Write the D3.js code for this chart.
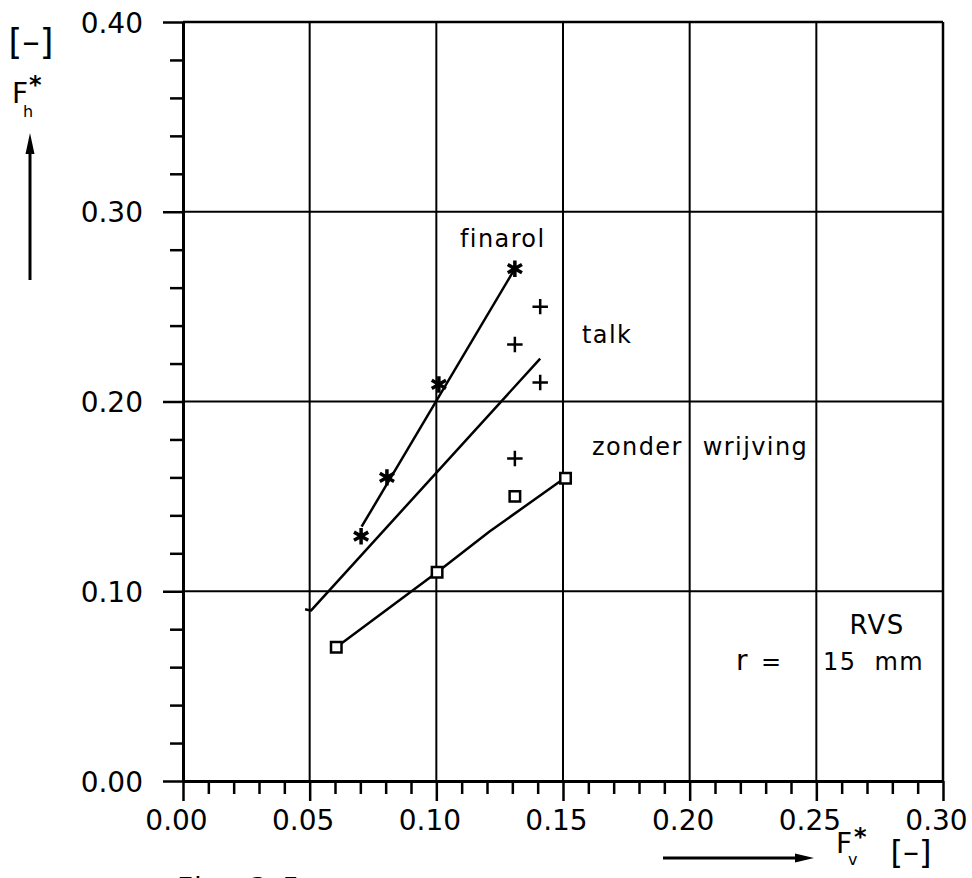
<!DOCTYPE html>
<html><head><meta charset="utf-8">
<script src="https://cdn.jsdelivr.net/npm/d3@7"></script>
<style>
body{margin:0;background:#fff}
svg{display:block}
text{font-family:"DejaVu Sans",sans-serif;fill:#000}
</style>
</head><body>
<svg id="c" width="972" height="878"></svg>
<script>
// ---- data ----
const xMajorTicks = [0.00, 0.05, 0.10, 0.15, 0.20, 0.25, 0.30];
const xMinorTicks = [0.01,0.02,0.03,0.04,0.06,0.07,0.08,0.09,0.11,0.12,0.13,0.14,0.16,0.17,0.18,0.19,0.21,0.22,0.23,0.24,0.26,0.27,0.28,0.29];
const yMajorTicks = [0.00, 0.10, 0.20, 0.30, 0.40];
const yMinorTicks = [0.02,0.04,0.06,0.08,0.12,0.14,0.16,0.18,0.22,0.24,0.26,0.28,0.32,0.34,0.36,0.38];

const seriesNames = ["finarol", "talk", "zonder wrijving"];
const finarolX = [0.0703, 0.0805, 0.101, 0.131];
const finarolY = [0.129, 0.160, 0.209, 0.270];
const talkX = [0.131, 0.131, 0.141, 0.141];
const talkY = [0.170, 0.230, 0.210, 0.250];
const zonderX = [0.0605, 0.1003, 0.131, 0.151];
const zonderY = [0.0705, 0.110, 0.150, 0.1595];

const finarolFitX = [0.0705, 0.131];
const finarolFitY = [0.134, 0.270];
const talkFitX = [0.0482, 0.0505, 0.141];
const talkFitY = [0.0905, 0.0898, 0.2226];
const zonderFitX = [0.0625, 0.1003, 0.121, 0.150];
const zonderFitY = [0.0725, 0.110, 0.1315, 0.1590];

// ---- chart ----
const svg = d3.select("#c");
const x = d3.scaleLinear().domain([0, 0.30]).range([183, 943]);
const y = d3.scaleLinear().domain([0, 0.40]).range([781, 22]);
const zip = (a, b) => a.map((v, i) => [v, b[i]]);

// grid
const grid = svg.append("g").attr("stroke", "#000").attr("stroke-width", 2);
grid.selectAll("line.v").data(xMajorTicks.filter(d => d > 0)).join("line")
  .attr("x1", d => x(d)).attr("x2", d => x(d)).attr("y1", y(0)).attr("y2", y(0.40))
  .attr("stroke-width", d => d === 0.30 ? 2.5 : 2);
grid.selectAll("line.h").data(yMajorTicks.filter(d => d > 0)).join("line")
  .attr("y1", d => y(d)).attr("y2", d => y(d)).attr("x1", x(0)).attr("x2", x(0.30))
  .attr("stroke-width", d => d === 0.40 ? 2.5 : 2);

// axes
function styleAxis(g) {
  g.select(".domain").attr("stroke", "#000").attr("stroke-width", 3);
  g.selectAll(".tick line").attr("stroke", "#000").attr("stroke-width", 2.5);
  g.selectAll(".tick text").attr("font-size", 28).attr("font-family", "DejaVu Sans").attr("fill", "#000");
}
const gxMinor = svg.append("g").attr("transform", `translate(0,${y(0)})`)
  .call(d3.axisBottom(x).tickValues(xMinorTicks).tickSize(13).tickSizeOuter(0).tickFormat(""));
styleAxis(gxMinor);
const gx = svg.append("g").attr("transform", `translate(0,${y(0)})`)
  .call(d3.axisBottom(x).tickValues(xMajorTicks).tickSize(20).tickSizeOuter(0).tickPadding(9).tickFormat(d3.format(".2f")));
styleAxis(gx);
gx.selectAll(".tick text").attr("dx", -7);

const gyMinor = svg.append("g").attr("transform", `translate(${x(0)},0)`)
  .call(d3.axisLeft(y).tickValues(yMinorTicks).tickSize(13).tickSizeOuter(0).tickFormat(""));
styleAxis(gyMinor);
const gy = svg.append("g").attr("transform", `translate(${x(0)},0)`)
  .call(d3.axisLeft(y).tickValues(yMajorTicks).tickSize(20).tickSizeOuter(0).tickPadding(20).tickFormat(d3.format(".2f")));
styleAxis(gy);
gy.selectAll(".tick text").attr("dy", "0.36em");

// fit lines
const line = d3.line().x(d => x(d[0])).y(d => y(d[1]));
const fits = [zip(finarolFitX, finarolFitY), zip(talkFitX, talkFitY), zip(zonderFitX, zonderFitY)];
svg.append("g").selectAll("path").data(fits).join("path")
  .attr("d", line).attr("fill", "none").attr("stroke", "#000").attr("stroke-width", 2.5)
  .attr("stroke-linejoin", "round");

// markers
svg.append("g").selectAll("path").data(zip(finarolX, finarolY)).join("path")
  .attr("transform", d => `translate(${x(d[0])},${y(d[1])})`)
  .attr("d", d3.symbol(d3.symbolAsterisk, 190))
  .attr("fill", "none").attr("stroke", "#000").attr("stroke-width", 3.5);
svg.append("g").selectAll("path").data(zip(talkX, talkY)).join("path")
  .attr("transform", d => `translate(${x(d[0])},${y(d[1])})`)
  .attr("d", d3.symbol(d3.symbolPlus, 80))
  .attr("fill", "none").attr("stroke", "#000").attr("stroke-width", 2.5);
svg.append("g").selectAll("path").data(zip(zonderX, zonderY)).join("path")
  .attr("transform", d => `translate(${x(d[0])},${y(d[1])})`)
  .attr("d", d3.symbol(d3.symbolSquare, 110))
  .attr("fill", "#fff").attr("stroke", "#000").attr("stroke-width", 2.5);

// series labels
const labels = svg.append("g").attr("font-size", 24).attr("letter-spacing", 1.4);
labels.append("text").attr("x", 460).attr("y", 247).text(seriesNames[0]);
labels.append("text").attr("x", 582).attr("y", 343).text(seriesNames[1]);
labels.append("text").attr("x", 592).attr("y", 455).attr("word-spacing", 11).text(seriesNames[2]);

// annotation
labels.append("text").attr("x", 877).attr("y", 634).attr("text-anchor", "middle").attr("font-size", 26).text("RVS");
labels.append("text").attr("x", 736).attr("y", 670).attr("font-size", 28).text("r");
labels.append("text").attr("x", 761).attr("y", 670).attr("font-size", 24).text("=");
labels.append("text").attr("x", 823).attr("y", 670).attr("xml:space", "preserve").text("15  mm");

// y axis title
const yt = svg.append("g");
yt.append("text").attr("x", 31).attr("y", 54).attr("text-anchor", "middle").attr("font-size", 35).text("[–]");
yt.append("text").attr("x", 12).attr("y", 103).attr("font-size", 28).text("F");
yt.append("text").attr("x", 23).attr("y", 117).attr("font-size", 16).text("h");
yt.append("text").attr("x", 29).attr("y", 93).attr("font-size", 24).attr("font-weight", "bold").text("*");
yt.append("line").attr("x1", 30).attr("x2", 30).attr("y1", 280).attr("y2", 150)
  .attr("stroke", "#000").attr("stroke-width", 3);
yt.append("path").attr("d", "M30,133 L25.5,154 L34.5,154 Z").attr("fill", "#000");

// x axis title
const xt = svg.append("g");
xt.append("line").attr("x1", 663).attr("x2", 798).attr("y1", 858).attr("y2", 858)
  .attr("stroke", "#000").attr("stroke-width", 3);
xt.append("path").attr("d", "M814,858 L795,853.5 L795,862.5 Z").attr("fill", "#000");
xt.append("text").attr("x", 836).attr("y", 853).attr("font-size", 28).text("F");
xt.append("text").attr("x", 848).attr("y", 865).attr("font-size", 16).text("v");
xt.append("text").attr("x", 854).attr("y", 845).attr("font-size", 24).attr("font-weight", "bold").text("*");
xt.append("text").attr("x", 911).attr("y", 863).attr("text-anchor", "middle").attr("font-size", 32).text("[–]");

// caption (cut off at bottom edge, as in the reference)
svg.append("text").attr("x", 177).attr("y", 898).attr("font-size", 28).attr("letter-spacing", 3).text("Fig. 3.5");
</script>
</body></html>
